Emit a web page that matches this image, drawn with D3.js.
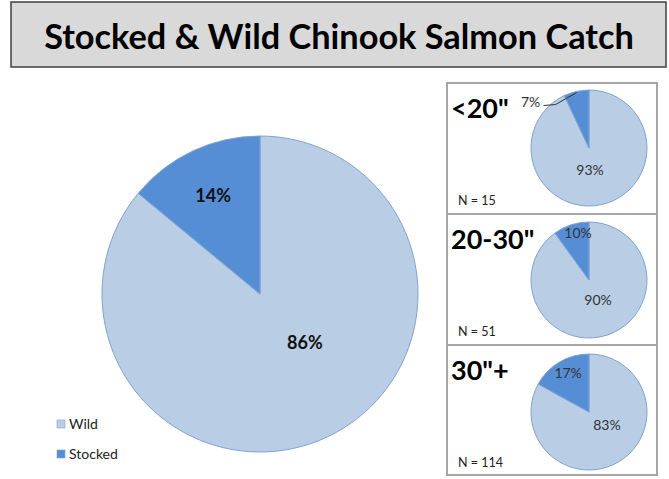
<!DOCTYPE html>
<html><head><meta charset="utf-8">
<script src="https://cdn.jsdelivr.net/npm/d3@7"></script>
<style>body{margin:0;background:#fff}svg{display:block}</style>
</head><body><svg id="c" width="669" height="479"></svg>
<script>
// ---- data ----
const categories = ["Wild", "Stocked"];
const overallValues = [86, 14];
const sizeClasses = ["<20\"", "20-30\"", "30\"+"];
const sizeWild = [93, 90, 83];
const sizeStocked = [7, 10, 17];
const sizeN = [15, 51, 114];
const titleText = "Stocked & Wild Chinook Salmon Catch";

// ---- styles / layout ----
const colors = d3.scaleOrdinal().domain(categories).range(["#B9CDE5", "#558ED5"]);
const fontFam = "Lato, 'Open Sans', sans-serif";
const svg = d3.select("#c");

// title box
svg.append("rect").attr("x", 11).attr("y", 2).attr("width", 655).attr("height", 65)
  .attr("fill", "#D9D9D9").attr("stroke", "#3F3F3F").attr("stroke-width", 1.5);
const t = svg.append("text").attr("x", 339).attr("y", 49).attr("text-anchor", "middle")
  .attr("font-family", fontFam).attr("font-weight", "bold").attr("font-size", 30)
  .attr("fill", "#000").text(titleText);
const tw = t.node().getComputedTextLength();
t.attr("font-size", 30 * 590 / tw);

const pie = d3.pie().sort(null).value(d => d.value);

// main pie
const mainR = 158, mainC = [260, 294];
const mainData = categories.map((c, i) => ({cat: c, value: overallValues[i]}));
const arcMain = d3.arc().innerRadius(0).outerRadius(mainR);
const gMain = svg.append("g").attr("transform", `translate(${mainC})`);
const mainArcs = pie(mainData);
gMain.selectAll("path").data(mainArcs).join("path")
  .attr("d", arcMain).attr("fill", d => colors(d.data.cat))
  .attr("stroke", "#7EA3D2").attr("stroke-width", 1);
// label placement (angle in degrees, radius fraction)
const mainLabelPos = [[137.4, 0.42], [-25.5, 0.69]];
gMain.selectAll("text").data(mainArcs).join("text")
  .attr("x", (d, i) => mainR * mainLabelPos[i][1] * Math.sin(mainLabelPos[i][0] * Math.PI / 180))
  .attr("y", (d, i) => -mainR * mainLabelPos[i][1] * Math.cos(mainLabelPos[i][0] * Math.PI / 180))
  .attr("dy", "0.35em").attr("text-anchor", "middle")
  .attr("font-family", fontFam).attr("font-weight", "bold").attr("font-size", 18).attr("fill", "#111")
  .text(d => d.data.value + "%");

// legend
const leg = svg.append("g").attr("transform", "translate(57,420)");
categories.forEach((c, i) => {
  const g = leg.append("g").attr("transform", `translate(0,${i * 30})`);
  g.append("rect").attr("x", 0).attr("y", 0).attr("width", 8).attr("height", 8)
    .attr("fill", colors(c)).attr("stroke", "#7EA3D2").attr("stroke-width", 0.6);
  g.append("text").attr("x", 12).attr("y", 4).attr("dy", "0.35em")
    .attr("font-family", fontFam).attr("font-size", 14).attr("fill", "#222").text(c);
});

// side panels
const panelX = 447, panelW = 210, panelTop = 83, panelH = 131;
const smallR = 58, smallCx = 589;
const smallCy = [148, 280, 412];
const smallLabelPos = [
  [[177.4, 0.38], null],
  [[155.8, 0.38], [-13.2, 0.83]],
  [[125.8, 0.38], [-28.3, 0.76]]
];
svg.append("rect").attr("x", panelX).attr("y", panelTop).attr("width", panelW).attr("height", panelH * 3 - 1)
  .attr("fill", "none").attr("stroke", "#A6A6A6").attr("stroke-width", 2);
for (let k = 1; k < 3; k++) {
  svg.append("line").attr("x1", panelX).attr("x2", panelX + panelW)
    .attr("y1", panelTop + panelH * k).attr("y2", panelTop + panelH * k)
    .attr("stroke", "#A6A6A6").attr("stroke-width", 2);
}
const arcSmall = d3.arc().innerRadius(0).outerRadius(smallR);
sizeClasses.forEach((sc, i) => {
  const y0 = panelTop + panelH * i;
  svg.append("text").attr("x", 451).attr("y", y0 + 35)
    .attr("font-family", fontFam).attr("font-weight", "bold").attr("font-size", 27).attr("fill", "#000").text(sc);
  svg.append("text").attr("x", 458).attr("y", y0 + 122)
    .attr("font-family", fontFam).attr("font-size", 12.5).attr("fill", "#222").text("N = " + sizeN[i]);
  const data = [{cat: "Wild", value: sizeWild[i]}, {cat: "Stocked", value: sizeStocked[i]}];
  const arcs = pie(data);
  const g = svg.append("g").attr("transform", `translate(${smallCx},${smallCy[i]})`);
  g.selectAll("path").data(arcs).join("path")
    .attr("d", arcSmall).attr("fill", d => colors(d.data.cat))
    .attr("stroke", "#7EA3D2").attr("stroke-width", 1);
  arcs.forEach((a, j) => {
    const pos = smallLabelPos[i][j];
    if (pos) {
      g.append("text")
        .attr("x", smallR * pos[1] * Math.sin(pos[0] * Math.PI / 180))
        .attr("y", -smallR * pos[1] * Math.cos(pos[0] * Math.PI / 180))
        .attr("dy", "0.35em").attr("text-anchor", "middle")
        .attr("font-family", fontFam).attr("font-size", 14).attr("fill", "#333")
        .text(a.data.value + "%");
    } else {
      // outside label with leader line
      const mid = (a.startAngle + a.endAngle) / 2;
      const ex = smallR * Math.sin(mid) * 0.98, ey = -smallR * Math.cos(mid) * 0.98;
      g.append("path").attr("d", `M${ex},${ey} L${ex - 21},${ey + 12} L${ex - 33},${ey + 13}`)
        .attr("fill", "none").attr("stroke", "#333").attr("stroke-width", 1);
      g.append("text").attr("x", ex - 46).attr("y", ey + 10).attr("dy", "0.35em").attr("text-anchor", "middle")
        .attr("font-family", fontFam).attr("font-size", 14).attr("fill", "#333")
        .text(a.data.value + "%");
    }
  });
});
</script></body></html>
